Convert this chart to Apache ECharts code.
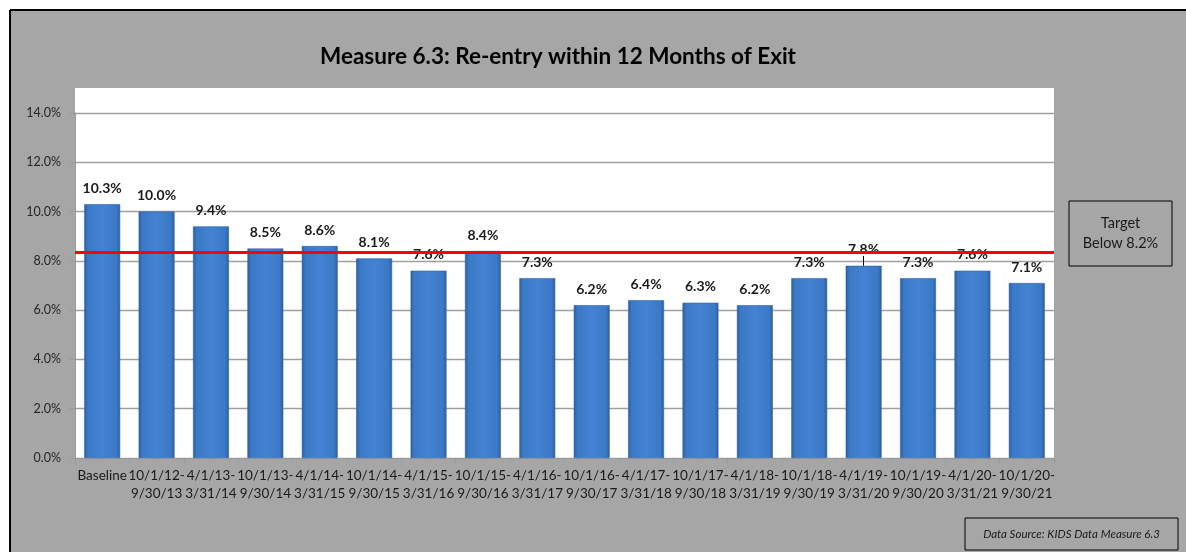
<!DOCTYPE html>
<html>
<head>
<meta charset="utf-8">
<style>
  html, body { margin: 0; padding: 0; background: #ffffff; overflow: hidden; }
  #chart { width: 1186px; height: 552px; }
</style>
<script src="https://cdn.jsdelivr.net/npm/echarts@6/dist/echarts.min.js"></script>
</head>
<body>
<div id="chart"></div>
<script>
// Reporting periods (each label is a period start - end)
const periods = [
  'Baseline',
  '10/1/12-\n9/30/13', '4/1/13-\n3/31/14', '10/1/13-\n9/30/14', '4/1/14-\n3/31/15',
  '10/1/14-\n9/30/15', '4/1/15-\n3/31/16', '10/1/15-\n9/30/16', '4/1/16-\n3/31/17',
  '10/1/16-\n9/30/17', '4/1/17-\n3/31/18', '10/1/17-\n9/30/18', '4/1/18-\n3/31/19',
  '10/1/18-\n9/30/19', '4/1/19-\n3/31/20', '10/1/19-\n9/30/20', '4/1/20-\n3/31/21',
  '10/1/20-\n9/30/21'
];

// Re-entry rate within 12 months of exit (%)
const reentryRate = [10.3, 10.0, 9.4, 8.5, 8.6, 8.1, 7.6, 8.4, 7.3, 6.2, 6.4, 6.3, 6.2, 7.3, 7.8, 7.3, 7.6, 7.1];

// Target reference line position (%)
const targetLine = 8.35;

// Y axis range (%)
const yMin = 0, yMax = 14, yStep = 2;

const FONT = 'Lato, "Open Sans", sans-serif';

const chart = echarts.init(document.getElementById('chart'), null, { renderer: 'canvas' });

chart.setOption({
  backgroundColor: '#ffffff',
  animation: false,
  title: {
    text: 'Measure 6.3: Re-entry within 12 Months of Exit',
    left: 553, top: 40, textAlign: 'center',
    textStyle: { fontFamily: FONT, fontSize: 22.5, fontWeight: 'bold', color: '#000000' }
  },
  graphic: [
    // chart area panel
    { type: 'rect', z: -10, shape: { x: 10, y: 10, width: 1176, height: 542 },
      style: { fill: '#a6a6a6' } },
    // panel border along the top and left edges
    { type: 'line', z: -8, shape: { x1: 10, y1: 10, x2: 1186, y2: 10 },
      style: { stroke: '#000000', lineWidth: 2 } },
    { type: 'line', z: -8, shape: { x1: 10, y1: 10, x2: 10, y2: 552 },
      style: { stroke: '#000000', lineWidth: 2 } },
    // plot area
    { type: 'rect', z: -9, shape: { x: 75, y: 88, width: 979, height: 370 },
      style: { fill: '#ffffff' } },
    // target box
    { type: 'rect', shape: { x: 1069, y: 201, width: 103, height: 65 },
      style: { fill: 'transparent', stroke: '#000000', lineWidth: 1 } },
    { type: 'text', style: { x: 1120.5, y: 233.5, text: 'Target\nBelow 8.2%', align: 'center',
      verticalAlign: 'middle', fontFamily: FONT, fontSize: 14.5, lineHeight: 20, fill: '#1a1a1a' } },
    // data source box
    { type: 'rect', shape: { x: 965, y: 518, width: 213, height: 32 },
      style: { fill: 'transparent', stroke: '#000000', lineWidth: 1 } },
    { type: 'text', style: { x: 1071.5, y: 534, text: 'Data Source: KIDS Data Measure 6.3', align: 'center',
      verticalAlign: 'middle', fontFamily: FONT, fontSize: 11.5, fontStyle: 'italic', fill: '#1a1a1a' } }
  ],
  grid: { left: 75, right: 132, top: 113, bottom: 94, containLabel: false },
  xAxis: {
    type: 'category',
    data: periods,
    axisLine: { show: true, lineStyle: { color: '#9a9a9a', width: 1 } },
    axisTick: { show: true, alignWithLabel: false, length: 5, lineStyle: { color: '#9a9a9a' } },
    axisLabel: { interval: 0, margin: 9, fontFamily: FONT, fontSize: 13.5, lineHeight: 18, color: '#1a1a1a' }
  },
  yAxis: {
    type: 'value',
    min: yMin, max: yMax, interval: yStep,
    axisLine: { show: true, lineStyle: { color: '#9a9a9a', width: 1 } },
    axisTick: { show: true, length: 5, lineStyle: { color: '#9a9a9a' } },
    axisLabel: { formatter: v => v.toFixed(1) + '%', margin: 14, fontFamily: FONT, fontSize: 12.5, color: '#262626' },
    splitLine: { show: true, lineStyle: { color: '#a0a0a0', width: 1.3 } }
  },
  series: [{
    type: 'bar',
    data: reentryRate,
    barCategoryGap: '34%',
    itemStyle: {
      color: new echarts.graphic.LinearGradient(0, 0, 1, 0, [
        { offset: 0, color: '#2a5c9e' },
        { offset: 0.1, color: '#3b79c6' },
        { offset: 0.5, color: '#4383d3' },
        { offset: 0.9, color: '#3b79c6' },
        { offset: 1, color: '#2a5c9e' }
      ]),
      borderColor: '#2f63a6',
      borderWidth: 0.6
    },
    label: {
      show: true, position: 'top', distance: 9,
      formatter: p => p.value.toFixed(1) + '%',
      fontFamily: FONT, fontSize: 14, fontWeight: 'bold', color: '#1a1a1a'
    },
    markLine: {
      silent: true, symbol: 'none',
      label: { show: false },
      lineStyle: { color: '#ff0000', width: 3, type: 'solid' },
      data: [
        { yAxis: targetLine },
        // short leader tick above the 4/1/19-3/31/20 bar
        [
          { coord: [14, reentryRate[14]], lineStyle: { color: '#000000', width: 1 } },
          { coord: [14, reentryRate[14] + 0.4] }
        ]
      ]
    }
  }]
});
</script>
</body>
</html>
